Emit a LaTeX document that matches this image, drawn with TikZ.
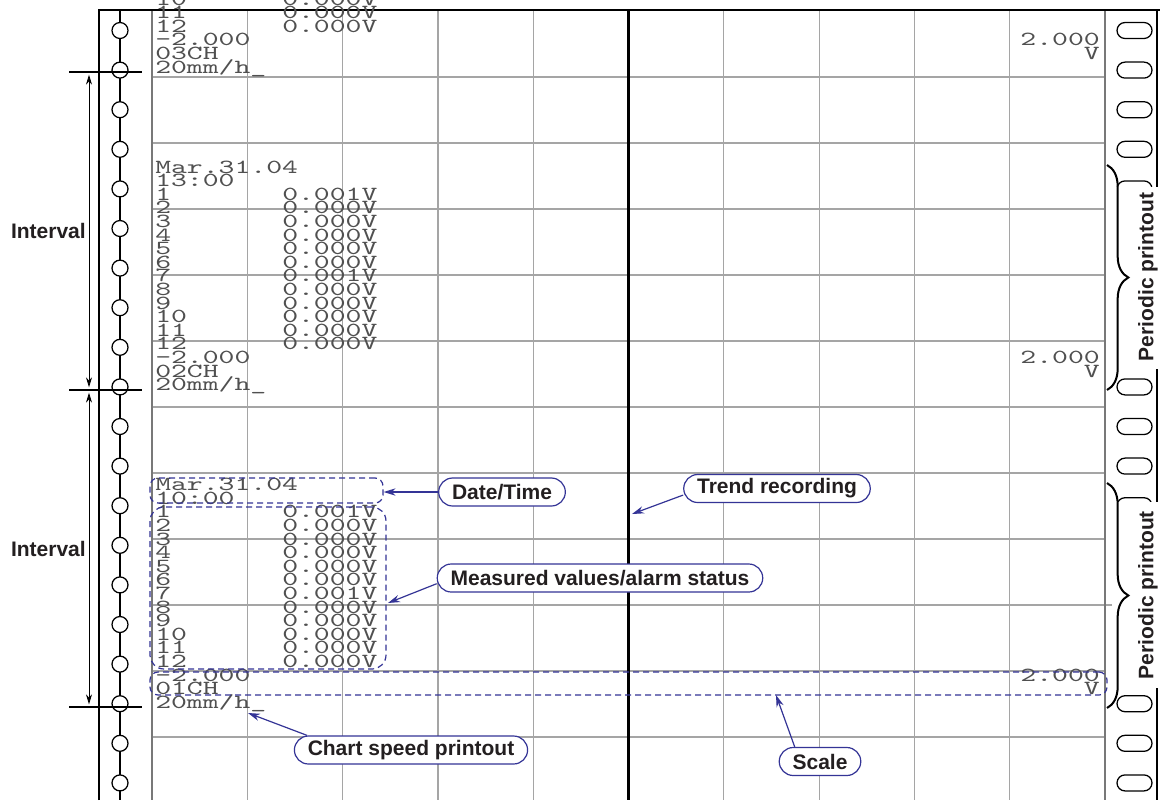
\documentclass[tikz,border=0pt]{standalone}
\usepackage{fontspec}
\setmainfont{Liberation Sans}
\newfontfamily\lblfont{Liberation Sans}
\newfontfamily\chartmono[FakeStretch=1.51]{lmmono10-regular.otf}
\usetikzlibrary{arrows.meta,decorations.pathreplacing,calc}
\definecolor{annblue}{RGB}{52,52,150}
\definecolor{gridgray}{RGB}{165,165,165}
\definecolor{bordergray}{RGB}{120,120,120}
\definecolor{txtgray}{RGB}{80,80,80}
\definecolor{lbltext}{RGB}{35,31,32}
\tikzset{
  gridline/.style={draw=gridgray, line width=0.9pt},
  borderline/.style={draw=bordergray, line width=0.9pt},
  frameline/.style={draw=black, line width=1.6pt},
  monotext/.style={font=\chartmono\fontsize{15pt}{15pt}\selectfont, text=txtgray, inner sep=0pt, anchor=base west},
  monoright/.style={monotext, anchor=base east},
  hole/.style={circle, draw=black, line width=0.95pt, fill=white, minimum size=12pt, inner sep=0pt},
  slotshape/.style={rectangle, draw=black, line width=0.95pt, fill=white, rounded corners=6pt, minimum width=26.25pt, minimum height=12pt, inner sep=0pt},
  callout/.style={draw=annblue, line width=0.9pt, fill=white, rounded corners=10.5pt, minimum height=21pt, inner xsep=10pt, inner ysep=0pt, font=\lblfont\bfseries\fontsize{15.75pt}{18pt}\selectfont, text=lbltext},
  dashbox/.style={draw=annblue, line width=0.9pt, dash pattern=on 4.5pt off 3pt, inner sep=0pt},
  pointer/.style={draw=annblue, line width=0.9pt, -{Stealth[length=9pt,width=5.5pt]}},
  sidetext/.style={font=\lblfont\bfseries\fontsize{15.75pt}{18pt}\selectfont, text=lbltext, inner sep=0pt},
  bracel/.style={draw=black, line width=1.5pt, decorate, decoration={brace, amplitude=16pt}},
  dimarrow/.style={draw=black, line width=0.7pt, {Stealth[length=7.5pt,width=4.5pt]}-{Stealth[length=7.5pt,width=4.5pt]}, shorten <=2pt, shorten >=2pt}
}
\begin{document}
\begin{tikzpicture}[x=0.75pt,y=-0.75pt]
\useasboundingbox (0,0) rectangle (1160,800);
\clip (0,0) rectangle (1160,800);
\fill[white] (0,0) rectangle (1160,800);

% grid
\foreach \i in {1,2,3,4,6,7,8,9} {
  \draw[gridline] (152+95.3*\i,10) -- (152+95.3*\i,800);
}
\foreach \j in {1,2,3,4,5,6,7,8,10,11} {
  \draw[gridline] (152,11+66*\j) -- (1105,11+66*\j);
}
\draw[gridline] (152,605) -- (1112,605);
\draw[borderline] (152,10) -- (152,800);
\draw[borderline] (1105,10) -- (1105,800);
\draw[line width=2.2pt] (628.5,10) -- (628.5,800);

% paper frame
\draw[frameline] (99,800) -- (99,10) -- (1160,10);
\draw[frameline] (1157,10) -- (1157,800);

% sprocket holes
\draw[line width=0.8pt] (120,10) -- (120,800);
\foreach \k in {0,...,19} {
  \node[hole] (h\k) at (120,30.5+39.6*\k) {};
  \node[slotshape] (s\k) at (1134.5,30.5+39.6*\k) {};
}

% interval marks
\coordinate (m1a) at (69,72);   \coordinate (m1b) at (142,72);
\coordinate (m2a) at (69,390);  \coordinate (m2b) at (142,390);
\coordinate (m3a) at (69,707);  \coordinate (m3b) at (142,707);
\draw[frameline] (m1a) -- (m1b);
\draw[frameline] (m2a) -- (m2b);
\draw[frameline] (m3a) -- (m3b);
\coordinate (a1) at (89,72); \coordinate (a2) at (89,390); \coordinate (a3) at (89,707);
\draw[dimarrow] (a1) -- (a2);
\draw[dimarrow] (a2) -- (a3);
\node[sidetext, anchor=east] (int1) at (86,231) {Interval};
\node[sidetext, anchor=east] (int2) at (86,549) {Interval};

% block 1 (top, partly cut)
\node[monotext] (b1c10) at (155,5) {10};
\node[monotext] (b1v10) at (282,5) {0.000V};
\node[monotext] (b1c11) at (155,18.6) {11};
\node[monotext] (b1v11) at (282,18.6) {0.000V};
\node[monotext] (b1c12) at (155,32.2) {12};
\node[monotext] (b1v12) at (282,32.2) {0.000V};
\node[monotext] (b1lo) at (155,45.8) {-2.000};
\node[monotext] (b1ch) at (155,59.4) {03CH};
\node[monotext] (b1sp) at (155,73) {20mm/h\_};
\node[monoright] (b1hi) at (1100,45.8) {2.000};
\node[monoright] (b1u) at (1100,59.4) {V};

% block 2
\node[monotext] (b2d) at (155,173) {Mar.31.04};
\node[monotext] (b2t) at (155,186.6) {13:00};
\foreach \c/\v in {1/0.001V,2/0.000V,3/0.000V,4/0.000V,5/0.000V,6/0.000V,7/0.001V,8/0.000V,9/0.000V,10/0.000V,11/0.000V,12/0.000V} {
  \node[monotext] (b2c\c) at (155,173+13.6*\c+13.6) {\c};
  \node[monotext] (b2v\c) at (282,173+13.6*\c+13.6) {\v};
}
\node[monotext] (b2lo) at (155,173+13.6*14) {-2.000};
\node[monotext] (b2ch) at (155,173+13.6*15) {02CH};
\node[monotext] (b2sp) at (155,173+13.6*16) {20mm/h\_};
\node[monoright] (b2hi) at (1100,173+13.6*14) {2.000};
\node[monoright] (b2u) at (1100,173+13.6*15) {V};

% block 3
\node[monotext] (b3d) at (155,490.6) {Mar.31.04};
\node[monotext] (b3t) at (155,504.2) {10:00};
\foreach \c/\v in {1/0.001V,2/0.000V,3/0.000V,4/0.000V,5/0.000V,6/0.000V,7/0.001V,8/0.000V,9/0.000V,10/0.000V,11/0.000V,12/0.000V} {
  \node[monotext] (b3c\c) at (155,490.6+13.6*\c+13.6) {\c};
  \node[monotext] (b3v\c) at (282,490.6+13.6*\c+13.6) {\v};
}
\node[monotext] (b3lo) at (155,490.6+13.6*14) {-2.000};
\node[monotext] (b3ch) at (155,490.6+13.6*15) {01CH};
\node[monotext] (b3sp) at (155,490.6+13.6*16) {20mm/h\_};
\node[monoright] (b3hi) at (1100,490.6+13.6*14) {2.000};
\node[monoright] (b3u) at (1100,490.6+13.6*15) {V};

% periodic printout braces
\fill[white] (1113,187) rectangle (1160,369);
\fill[white] (1113,502) rectangle (1160,688);
\coordinate (br1a) at (1107,165); \coordinate (br1b) at (1107,390);
\coordinate (br2a) at (1107,483); \coordinate (br2b) at (1107,708);
\draw[bracel] (br1a) -- (br1b);
\draw[bracel] (br2a) -- (br2b);
\node[sidetext, rotate=90] (pp1) at (1148,277) {Periodic printout};
\node[sidetext, rotate=90] (pp2) at (1148,595) {Periodic printout};

% dashed annotation boxes
\node[dashbox, rounded corners=6pt, minimum width=174.75pt, minimum height=18.75pt] (datebox) at (266.5,490.5) {};
\node[dashbox, rounded corners=10.5pt, minimum width=177pt, minimum height=121.5pt] (measbox) at (268,588) {};
\node[dashbox, rounded corners=6pt, minimum width=717.75pt, minimum height=17.25pt] (scalebox) at (628.5,683.5) {};

% callouts
\node[callout] (date) at (502,492) {Date/Time};
\node[callout] (trend) at (777,488.5) {Trend recording};
\node[callout] (meas) at (600,578) {Measured values/alarm status};
\node[callout] (speed) at (411,750) {Chart speed printout};
\node[callout] (scale) at (820,761.5) {Scale};

\coordinate (trendtip) at (632,514);
\coordinate (meastip) at (388,603);
\coordinate (speedtip) at (248,713);
\coordinate (scaletip) at (776,695);

\draw[pointer] (date.west) -- (date.west -| datebox.east);
\draw[pointer] (trend.184) -- (trendtip);
\draw[pointer] (meas.182) -- (meastip);
\draw[pointer] (speed.172) -- (speedtip);
\draw[pointer] (scale.150) -- (scaletip);
\end{tikzpicture}
\end{document}
